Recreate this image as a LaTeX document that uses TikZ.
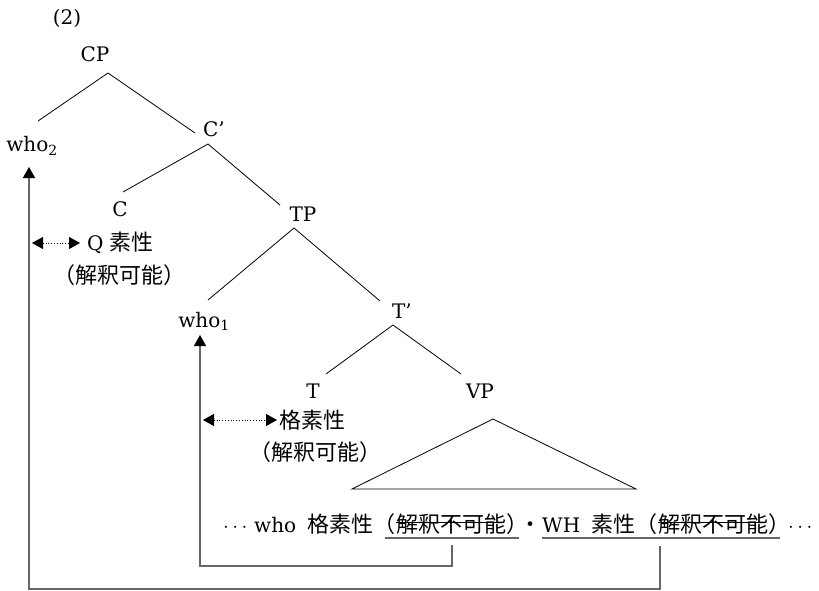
\documentclass[tikz,border=0pt]{standalone}
\usepackage{fontspec}
\setmainfont{DejaVu Serif}
\newfontfamily\jp{Noto Sans CJK JP}
\usetikzlibrary{arrows.meta,calc}
\newcommand{\lpar}{\makebox[11pt][r]{\jp （}}
\newcommand{\rpar}{\makebox[11pt][l]{\jp ）}}
\begin{document}
\begin{tikzpicture}[x=1pt,y=-1pt,
  every node/.style={font=\fontsize{20}{24}\selectfont, inner sep=0pt},
  cjk/.style={font=\fontsize{22}{26}\selectfont\jp},
  lab/.style={anchor=base},
  bw/.style={anchor=base west},
  branch/.style={draw=black, line width=0.8pt},
  move/.style={draw=black!60, line width=1.4pt, -{Triangle[length=11pt,width=12pt,color=black]}},
  agree/.style={draw=black, line width=0.8pt, dotted, {Triangle[length=11pt,width=12pt]}-{Triangle[length=11pt,width=12pt]}},
  uline/.style={draw=black!60, line width=1.3pt},
  strike/.style={draw=black, line width=1pt}
]
\useasboundingbox (0,0) rectangle (819,591);

% label
\node[lab] (num) at (67,25) {(2)};

% tree labels
\node[lab] (CP) at (95,62) {CP};
\node[lab] (who2) at (32,152) {who\textsubscript{2}};
\node[lab] (Cbar) at (214,137) {C’};
\node[lab] (C) at (120,216) {C};
\node[lab] (TP) at (303,221) {TP};
\node[lab] (who1) at (204,327) {who\textsubscript{1}};
\node[lab] (Tbar) at (402,318) {T’};
\node[lab] (T) at (313,398) {T};
\node[lab] (VP) at (480,398) {VP};

% branch end points
\coordinate (CPb) at (108,73);
\coordinate (who2t) at (38,121);
\coordinate (Cbart) at (195,133);
\coordinate (Cbarb) at (208,144);
\coordinate (Ct) at (123,192);
\coordinate (TPt) at (280,205);
\coordinate (TPb) at (294,228);
\coordinate (who1t) at (208,300);
\coordinate (Tbart) at (380,301);
\coordinate (Tbarb) at (393,325);
\coordinate (Tt) at (326,374);
\coordinate (VPt) at (461,374);
\coordinate (triA) at (493,419);
\coordinate (triB) at (352,489);
\coordinate (triC) at (636,489);

\draw[branch] (CPb) -- (who2t);
\draw[branch] (CPb) -- (Cbart);
\draw[branch] (Cbarb) -- (Ct);
\draw[branch] (Cbarb) -- (TPt);
\draw[branch] (TPb) -- (who1t);
\draw[branch] (TPb) -- (Tbart);
\draw[branch] (Tbarb) -- (Tt);
\draw[branch] (Tbarb) -- (VPt);
\draw[branch] (triA) -- (triB) -- (triC) -- cycle;

% feature labels
\node[anchor=west] (Qf) at (87,243) {Q {\fontsize{22}{26}\selectfont\jp 素性}};
\node[cjk] (Qi) at (119,275) {（解釈可能）};
\node[cjk, anchor=west] (Kf) at (279,420) {格素性};
\node[cjk] (Ki) at (315,452) {（解釈可能）};

\coordinate (QL) at (32,243);
\coordinate (QR) at (80,243);
\coordinate (KL) at (203,420);
\coordinate (KR) at (277,420);
\draw[agree] (QL) -- (QR);
\draw[agree] (KL) -- (KR);

% bottom line
\node[bw] (b1a) at (223,532) {$\cdots$};
\node[bw] (b1b) at (254,532) {who};
\node[cjk, bw] (b1c) at (307,532) {格素性};
\node[cjk, bw] (b2m) at (396,532) {解釈不可能};
\node[cjk, anchor=base east] (b2l) at (b2m.base west) {\lpar};
\node[cjk, bw] (b2r) at (b2m.base east) {\rpar};
\node[cjk, lab] (b3) at (530,532) {・};
\node[bw] (b4a) at (542,532) {WH};
\node[cjk, bw] (b4b) at (591,532) {素性};
\node[cjk, bw] (b4m) at (658,532) {解釈不可能};
\node[cjk, anchor=base east] (b4l) at (b4m.base west) {\lpar};
\node[cjk, bw] (b4r) at (b4m.base east) {\rpar};
\node[bw] (b5) at (788,532) {$\cdots$};

\draw[uline] ($(b2l.base west)+(0,6)$) -- ($(b2r.base east)+(1,6)$);
\draw[uline] ($(b4a.base west)+(0,6)$) -- ($(b4r.base east)+(0,6)$);
\draw[strike] ($(b2m.base west)+(0,-10)$) -- ($(b2m.base east)+(-2,-10)$);
\draw[strike] ($(b4m.base west)+(0,-10)$) -- ($(b4m.base east)+(-2,-10)$);

% movement arrows
\coordinate (u1) at (452,545);
\coordinate (c1) at (200,566);
\coordinate (w1tip) at (200,335);
\coordinate (u2) at (660,546);
\coordinate (c2) at (29,589);
\coordinate (w2tip) at (29,167);
\draw[move] (u1) |- (c1) -- (w1tip);
\draw[move] (u2) |- (c2) -- (w2tip);
\end{tikzpicture}
\end{document}
